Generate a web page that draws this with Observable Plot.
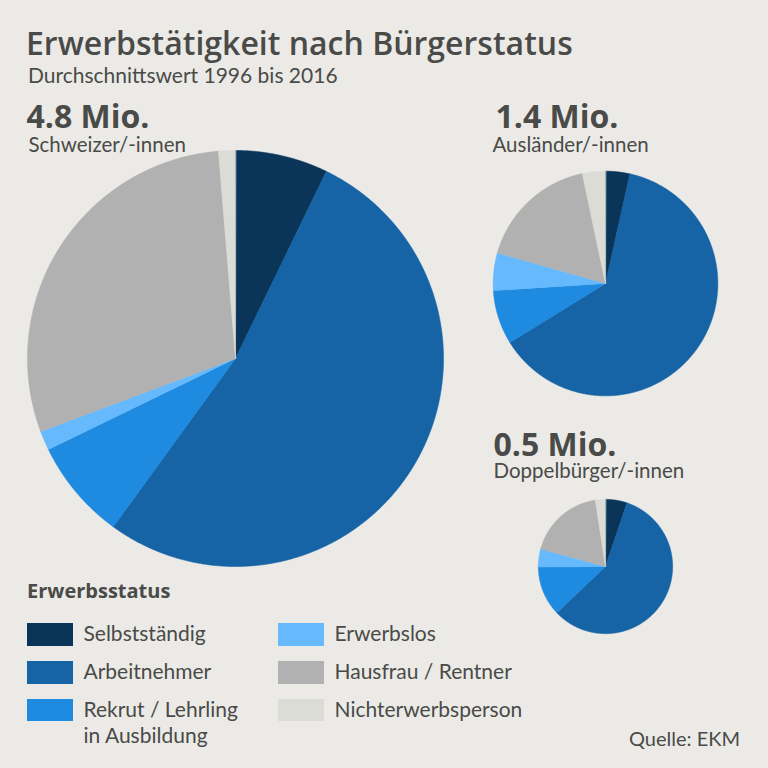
<!DOCTYPE html>
<html><head><meta charset="utf-8">
<script src="https://cdn.jsdelivr.net/npm/d3@7"></script>
<script src="https://cdn.jsdelivr.net/npm/@observablehq/plot@0.6"></script>
<style>
html,body{margin:0;padding:0;background:#ebeae6;}
#wrap{position:relative;width:768px;height:768px;overflow:hidden;font-family:Lato,"Open Sans",sans-serif;color:#4a4a48;}
.t{position:absolute;white-space:nowrap;line-height:1.2;margin:0;}
#title{left:26px;top:20.8px;font-size:32px;font-weight:600;font-family:"Open Sans",Lato,sans-serif;line-height:43.6px;}
#subtitle{left:28px;top:62px;font-size:21px;font-weight:400;}
#chart{position:absolute;left:0;top:90px;}
#legtitle{left:27px;top:576.7px;font-size:20px;font-weight:700;font-family:"Open Sans",Lato,sans-serif;line-height:27px;}
.sw{position:absolute;width:45.5px;height:22.5px;}
.lab{position:absolute;font-size:21px;line-height:26.5px;white-space:pre;}
#source{right:28px;top:726px;font-size:20px;}
</style>
</head><body>
<div id="wrap">
  <div class="t" id="title">Erwerbstätigkeit nach Bürgerstatus</div>
  <div class="t" id="subtitle">Durchschnittswert 1996 bis 2016</div>
  <div id="chart"></div>
  <div class="t" id="legtitle">Erwerbsstatus</div>
  <div id="legend"></div>
  <div class="t" id="source">Quelle: EKM</div>
</div>
<script>
// ---- data ----
const categories = ["Selbstständig", "Arbeitnehmer", "Rekrut / Lehrling in Ausbildung", "Erwerbslos", "Hausfrau / Rentner", "Nichterwerbsperson"];
const legendLabels = ["Selbstständig", "Arbeitnehmer", "Rekrut / Lehrling\nin Ausbildung", "Erwerbslos", "Hausfrau / Rentner", "Nichterwerbsperson"];
const colors = ["#0a3559", "#1663a6", "#1e8ae0", "#65b9fc", "#b1b1b1", "#dcdcd7"];
const groups = ["Schweizer/-innen", "Ausländer/-innen", "Doppelbürger/-innen"];
const totals = [4.8, 1.4, 0.5]; // Mio.
const sharesSchweizer = [7.2, 52.8, 7.8, 1.5, 29.4, 1.3];
const sharesAuslaender = [3.5, 62.7, 7.8, 5.4, 17.3, 3.3];
const sharesDoppel = [5.2, 57.7, 12.0, 4.3, 18.4, 2.4];
const shares = [sharesSchweizer, sharesAuslaender, sharesDoppel];

// ---- layout (page pixel units) ----
const W = 768, TOP = 90, H = 768 - TOP;
const centers = [[235, 358], [605, 283], [605, 566]];
const labelPos = [[26, 127.3, 28, 151], [495, 127, 492, 151], [493, 455, 493, 477]];
const rScale = d3.scaleSqrt().domain([0, 4.8]).range([0, 208]);

// build slice polygons from the data
const pie = d3.pie().sort(null).value(d => d);
const pts = [];
shares.forEach((s, gi) => {
  const [cx, cy] = centers[gi];
  const r = rScale(totals[gi]);
  pie(s).forEach((a, ci) => {
    const key = gi + "|" + ci;
    pts.push({key, cat: categories[ci], x: cx, y: cy});
    const n = Math.max(2, Math.ceil((a.endAngle - a.startAngle) / 0.005));
    for (let k = 0; k <= n; k++) {
      const t = a.startAngle + (a.endAngle - a.startAngle) * k / n;
      pts.push({key, cat: categories[ci], x: cx + r * Math.sin(t), y: cy - r * Math.cos(t)});
    }
  });
});

const labels = groups.map((g, i) => ({
  name: g, value: totals[i].toFixed(1) + " Mio.",
  vx: labelPos[i][0], vy: labelPos[i][1], nx: labelPos[i][2], ny: labelPos[i][3]
}));

const chart = Plot.plot({
  width: W, height: H,
  marginTop: 0, marginRight: 0, marginBottom: 0, marginLeft: 0,
  x: {domain: [0, W], range: [0, W], axis: null},
  y: {domain: [TOP, 768], range: [0, H], axis: null},
  color: {domain: categories, range: colors},
  style: {background: "transparent", fontFamily: "Lato, 'Open Sans', sans-serif", color: "#4a4a48", overflow: "visible"},
  marks: [
    Plot.line(pts, {x: "x", y: "y", z: "key", fill: "cat", stroke: "cat", strokeWidth: 0.6, curve: "linear-closed"}),
    Plot.text(labels, {x: "vx", y: "vy", text: "value", textAnchor: "start", lineAnchor: "bottom", fontSize: 32, fontWeight: 700, fontFamily: "Open Sans", fill: "#4a4a48"}),
    Plot.text(labels, {x: "nx", y: "ny", text: "name", textAnchor: "start", lineAnchor: "bottom", fontSize: 20.5, fontWeight: 400, fill: "#4a4a48"})
  ]
});
document.getElementById("chart").appendChild(chart);

// legend
const leg = document.getElementById("legend");
const rowTops = [623.3, 661, 698.7];
categories.forEach((c, i) => {
  const col = Math.floor(i / 3), row = i % 3;
  const sx = col === 0 ? 27 : 278;
  const sw = document.createElement("div");
  sw.className = "sw";
  sw.style.left = sx + "px";
  sw.style.top = rowTops[row] + "px";
  sw.style.background = colors[i];
  leg.appendChild(sw);
  const lb = document.createElement("div");
  lb.className = "lab";
  lb.style.left = (sx + 56.5) + "px";
  lb.style.top = (rowTops[row] - 3) + "px";
  lb.textContent = legendLabels[i];
  leg.appendChild(lb);
});
</script>
</body></html>
